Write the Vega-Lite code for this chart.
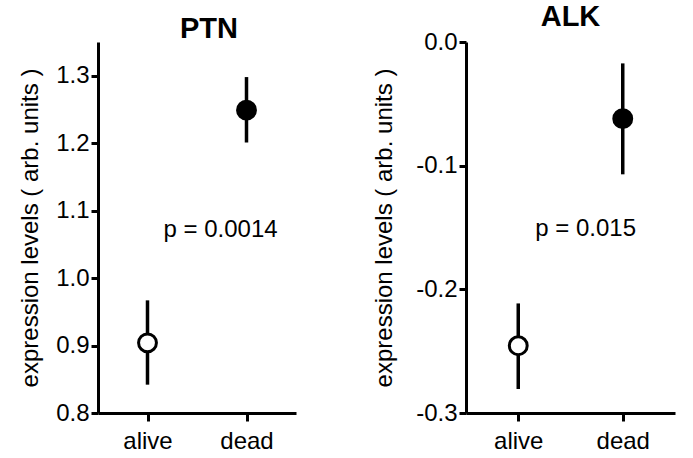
{
  "$schema": "https://vega.github.io/schema/vega-lite/v6.json",
  "background": "white",
  "padding": {"left": 18, "top": 3, "right": 10, "bottom": 0},
  "spacing": 76,
  "config": {
    "font": "Liberation Sans",
    "view": {"stroke": null},
    "axis": {
      "domainColor": "black", "domainWidth": 3, "tickColor": "black", "tickWidth": 3,
      "labelColor": "black", "labelFontSize": 24, "titleFontSize": 24, "titleFontWeight": "normal",
      "titleColor": "black", "grid": false
    },
    "title": {"fontSize": 29, "fontWeight": "bold", "color": "black", "offset": -2}
  },
  "datasets": {
    "ptn": [
      {"group": "alive", "mean": 0.904, "lo": 0.842, "hi": 0.967},
      {"group": "dead", "mean": 1.249, "lo": 1.201, "hi": 1.298}
    ],
    "alk": [
      {"group": "alive", "mean": -0.2456, "lo": -0.2806, "hi": -0.2114},
      {"group": "dead", "mean": -0.062, "lo": -0.107, "hi": -0.0173}
    ],
    "ptn_p": [{"group": "alive", "y": 1.071, "label": "p = 0.0014"}],
    "alk_p": [{"group": "alive", "y": -0.1514, "label": "p = 0.015"}]
  },
  "hconcat": [
    {
      "width": 198, "height": 371,
      "title": {"text": "PTN", "dx": 12},
      "layer": [
        {
          "data": {"name": "ptn"},
          "mark": {"type": "rule", "strokeWidth": 3.5, "color": "black"},
          "encoding": {
            "x": {"field": "group", "type": "nominal", "scale": {"type": "point", "padding": 0.5},
              "axis": {"title": null, "labelAngle": 0, "tickSize": 8, "labelPadding": 8}},
            "y": {"field": "lo", "type": "quantitative", "scale": {"domain": [0.8, 1.35], "nice": false, "zero": false},
              "axis": {"title": "expression levels ( arb. units )", "values": [0.8, 0.9, 1.0, 1.1, 1.2, 1.3], "format": ".1f", "tickSize": 7, "labelPadding": 2, "titlePadding": 13}},
            "y2": {"field": "hi"}
          }
        },
        {
          "data": {"name": "ptn"},
          "mark": {"type": "point", "shape": "circle", "filled": true, "size": 320, "stroke": "black", "strokeWidth": 3, "opacity": 1},
          "encoding": {
            "x": {"field": "group", "type": "nominal"},
            "y": {"field": "mean", "type": "quantitative"},
            "fill": {"field": "group", "type": "nominal", "scale": {"domain": ["alive", "dead"], "range": ["white", "black"]}, "legend": null}
          }
        },
        {
          "data": {"name": "ptn_p"},
          "mark": {"type": "text", "align": "left", "baseline": "middle", "dx": 16, "fontSize": 24, "color": "black"},
          "encoding": {
            "x": {"field": "group", "type": "nominal"},
            "y": {"field": "y", "type": "quantitative"},
            "text": {"field": "label"}
          }
        }
      ]
    },
    {
      "width": 209, "height": 371,
      "title": {"text": "ALK"},
      "layer": [
        {
          "data": {"name": "alk"},
          "mark": {"type": "rule", "strokeWidth": 3.5, "color": "black"},
          "encoding": {
            "x": {"field": "group", "type": "nominal", "scale": {"type": "point", "padding": 0.5},
              "axis": {"title": null, "labelAngle": 0, "tickSize": 8, "labelPadding": 8}},
            "y": {"field": "lo", "type": "quantitative", "scale": {"domain": [-0.3, 0.0], "nice": false, "zero": false},
              "axis": {"title": "expression levels ( arb. units )", "values": [-0.3, -0.2, -0.1, 0.0], "labelExpr": "replace(format(datum.value, '.1f'), '\u2212', '-')", "tickSize": 7, "labelPadding": 2, "titlePadding": 19}},
            "y2": {"field": "hi"}
          }
        },
        {
          "data": {"name": "alk"},
          "mark": {"type": "point", "shape": "circle", "filled": true, "size": 320, "stroke": "black", "strokeWidth": 3, "opacity": 1},
          "encoding": {
            "x": {"field": "group", "type": "nominal"},
            "y": {"field": "mean", "type": "quantitative"},
            "fill": {"field": "group", "type": "nominal", "scale": {"domain": ["alive", "dead"], "range": ["white", "black"]}, "legend": null}
          }
        },
        {
          "data": {"name": "alk_p"},
          "mark": {"type": "text", "align": "left", "baseline": "middle", "dx": 17, "fontSize": 24, "color": "black"},
          "encoding": {
            "x": {"field": "group", "type": "nominal"},
            "y": {"field": "y", "type": "quantitative"},
            "text": {"field": "label"}
          }
        }
      ]
    }
  ]
}
